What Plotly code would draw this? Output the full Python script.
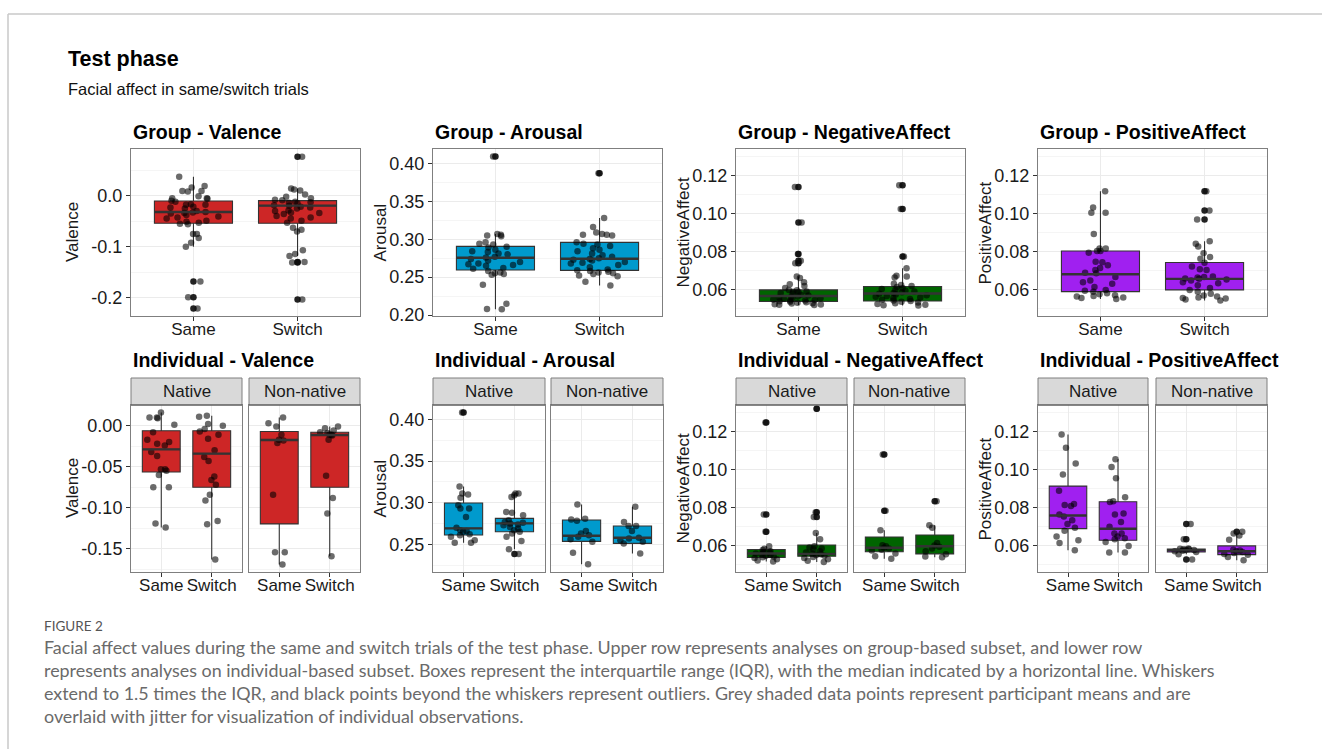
import plotly.graph_objects as go

W, H = 1322, 749

# ---------------- participant means (jittered points) ----------------
# Group-based subset
GV_SAME = [0.037, 0.019, 0.016, 0.009, 0.009, 0.008, -0.001, -0.005, -0.005, -0.006,
           -0.010, -0.012, -0.017, -0.018, -0.018, -0.022, -0.023, -0.025, -0.030, -0.032,
           -0.033, -0.034, -0.035, -0.038, -0.041, -0.043, -0.045, -0.049, -0.051, -0.053,
           -0.055, -0.056, -0.075, -0.075, -0.083, -0.092, -0.100, -0.168, -0.199, -0.221]
GV_SWITCH = [0.076, 0.014, 0.012, 0.010, 0.002, -0.002, -0.005, -0.008, -0.009, -0.012,
             -0.013, -0.014, -0.015, -0.019, -0.020, -0.022, -0.023, -0.025, -0.029, -0.030,
             -0.033, -0.034, -0.036, -0.040, -0.043, -0.045, -0.049, -0.053, -0.063, -0.067,
             -0.070, -0.107, -0.114, -0.118, -0.130, -0.131, -0.203]
GA_SAME = [0.409, 0.307, 0.306, 0.305, 0.304, 0.296, 0.294, 0.293, 0.290, 0.289,
           0.286, 0.284, 0.283, 0.281, 0.280, 0.277, 0.276, 0.274, 0.272, 0.270,
           0.268, 0.267, 0.266, 0.265, 0.262, 0.261, 0.258, 0.256, 0.255, 0.254,
           0.253, 0.240, 0.215, 0.208, 0.2075]
GA_SWITCH = [0.387, 0.328, 0.316, 0.309, 0.307, 0.306, 0.306, 0.305, 0.296, 0.294,
             0.293, 0.291, 0.288, 0.286, 0.284, 0.281, 0.279, 0.277, 0.275, 0.274,
             0.273, 0.272, 0.270, 0.269, 0.268, 0.266, 0.263, 0.260, 0.259, 0.258,
             0.257, 0.256, 0.255, 0.254, 0.252, 0.251, 0.244, 0.239]
GN_SAME = [0.114, 0.0954, 0.0788, 0.0753, 0.0740, 0.0670, 0.0662, 0.0640, 0.0630, 0.0620,
           0.0610, 0.0600, 0.0598, 0.0592, 0.0588, 0.0584, 0.0580, 0.0575, 0.0571, 0.0567,
           0.0563, 0.0560, 0.0556, 0.0553, 0.0550, 0.0547, 0.0544, 0.0541, 0.0538, 0.0535,
           0.0532, 0.0528, 0.0525, 0.0522, 0.0521, 0.0524, 0.0530, 0.0545, 0.0558, 0.0590]
GN_SWITCH = [0.115, 0.1025, 0.0775, 0.0714, 0.0675, 0.0670, 0.0665, 0.0632, 0.0626, 0.0620,
             0.0615, 0.0610, 0.0605, 0.0600, 0.0596, 0.0592, 0.0588, 0.0584, 0.0580, 0.0576,
             0.0572, 0.0568, 0.0564, 0.0560, 0.0556, 0.0552, 0.0548, 0.0545, 0.0542, 0.0538,
             0.0534, 0.0530, 0.0526, 0.0522, 0.0520, 0.0518]
GP_SAME = [0.1118, 0.1033, 0.1005, 0.1005, 0.0893, 0.0818, 0.0818, 0.0805, 0.0805, 0.0795,
           0.0748, 0.0745, 0.0730, 0.0715, 0.0705, 0.0690, 0.0688, 0.0668, 0.0650, 0.0640,
           0.0632, 0.0615, 0.0600, 0.0595, 0.0590, 0.0582, 0.0577, 0.0572, 0.0568, 0.0565,
           0.0560, 0.0557, 0.0552]
GP_SWITCH = [0.1118, 0.1017, 0.0970, 0.0855, 0.0842, 0.0828, 0.0793, 0.0773, 0.0763, 0.0742,
             0.0723, 0.0708, 0.0705, 0.0670, 0.0668, 0.0665, 0.0660, 0.0658, 0.0655, 0.0650,
             0.0640, 0.0635, 0.0625, 0.0610, 0.0600, 0.0590, 0.0580, 0.0570, 0.0565, 0.0560,
             0.0558, 0.0555, 0.0550, 0.0545]

# Individual-based subset (Native / Non-native)
IV_NAT_SAME = [0.016, 0.010, 0.010, 0.009, 0.001, -0.008, -0.017, -0.020, -0.022, -0.024,
               -0.032, -0.037, -0.053, -0.053, -0.055, -0.060, -0.075, -0.075, -0.119, -0.124]
IV_NAT_SWITCH = [0.012, 0.011, 0.002, 0.000, -0.004, -0.007, -0.011, -0.016, -0.030, -0.038,
                 -0.043, -0.062, -0.066, -0.072, -0.084, -0.091, -0.116, -0.120, -0.163]
IV_NON_SAME = [0.010, 0.003, -0.001, -0.011, -0.017, -0.018, -0.021, -0.084, -0.154, -0.154, -0.169]
IV_NON_SWITCH = [-0.001, -0.003, -0.006, -0.008, -0.009, -0.011, -0.011, -0.012, -0.017,
                 -0.061, -0.088, -0.107, -0.159]
IA_NAT_SAME = [0.4084, 0.3196, 0.311, 0.310, 0.306, 0.297, 0.293, 0.293, 0.283, 0.270,
               0.267, 0.266, 0.265, 0.262, 0.261, 0.259, 0.255, 0.252, 0.252]
IA_NAT_SWITCH = [0.311, 0.311, 0.309, 0.307, 0.289, 0.288, 0.285, 0.279, 0.277, 0.276,
                 0.275, 0.274, 0.273, 0.271, 0.269, 0.267, 0.265, 0.263, 0.259, 0.254,
                 0.244, 0.2384]
IA_NON_SAME = [0.298, 0.2808, 0.280, 0.2784, 0.266, 0.263, 0.261, 0.259, 0.256, 0.253, 0.240, 0.226]
IA_NON_SWITCH = [0.2952, 0.2768, 0.272, 0.272, 0.266, 0.258, 0.257, 0.255, 0.253, 0.251, 0.239]
IN_NAT_SAME = [0.1248, 0.0765, 0.0675, 0.0598, 0.0585, 0.0578, 0.0572, 0.0568, 0.0564, 0.0560,
               0.0556, 0.0552, 0.0548, 0.0544, 0.0540, 0.0536, 0.0530, 0.0524, 0.0518]
IN_NAT_SWITCH = [0.132, 0.0777, 0.0752, 0.0668, 0.0635, 0.0598, 0.0592, 0.0587, 0.0582, 0.0572,
                 0.0566, 0.0560, 0.0556, 0.0552, 0.0548, 0.0542, 0.0536, 0.0530, 0.0522, 0.0516]
IN_NON_SAME = [0.108, 0.0785, 0.0682, 0.0604, 0.0598, 0.0590, 0.0586, 0.0580, 0.0576, 0.0560,
               0.0546, 0.0533]
IN_NON_SWITCH = [0.0835, 0.0708, 0.0695, 0.0615, 0.0602, 0.0596, 0.0586, 0.0572, 0.0556,
                 0.0545, 0.0541]
IP_NAT_SAME = [0.1185, 0.1115, 0.1033, 0.0975, 0.0890, 0.0820, 0.0815, 0.0810, 0.0765, 0.0755,
               0.0735, 0.0715, 0.0695, 0.0680, 0.0650, 0.0630, 0.0615, 0.0577]
IP_NAT_SWITCH = [0.1055, 0.1015, 0.0955, 0.0855, 0.0835, 0.0830, 0.0770, 0.0765, 0.0725, 0.0700,
                 0.0665, 0.0665, 0.0650, 0.0640, 0.0635, 0.0620, 0.0600, 0.0565, 0.0565]
IP_NON_SAME = [0.0715, 0.0635, 0.0586, 0.0585, 0.0583, 0.0582, 0.0580, 0.0578, 0.0575, 0.0572,
               0.0568, 0.0556, 0.0528]
IP_NON_SWITCH = [0.0675, 0.0665, 0.0655, 0.0633, 0.0580, 0.0576, 0.0572, 0.0568, 0.0563,
                 0.0558, 0.0554, 0.0542, 0.0525]

# ---------------- box summaries: [lower whisker, Q1, median, Q3, upper whisker] ----------------
GV_SAME_BOX = [-0.100, -0.054, -0.032, -0.0104, 0.037]
GV_SWITCH_BOX = [-0.118, -0.054, -0.0195, -0.0097, 0.014]
GA_SAME_BOX = [0.2075, 0.2593, 0.2756, 0.2906, 0.307]
GA_SWITCH_BOX = [0.239, 0.2589, 0.2743, 0.2958, 0.328]
GN_SAME_BOX = [0.0521, 0.0539, 0.0568, 0.0600, 0.0670]
GN_SWITCH_BOX = [0.0518, 0.0542, 0.0581, 0.0618, 0.0714]
GP_SAME_BOX = [0.0552, 0.0591, 0.0682, 0.0804, 0.1118]
GP_SWITCH_BOX = [0.0545, 0.0600, 0.0658, 0.0744, 0.0855]

IV_NAT_SAME_BOX = [-0.124, -0.0564, -0.0288, -0.0061, 0.016]
IV_NAT_SWITCH_BOX = [-0.163, -0.075, -0.034, -0.0061, 0.012]
IV_NON_SAME_BOX = [-0.169, -0.1196, -0.0174, -0.007, 0.010]
IV_NON_SWITCH_BOX = [-0.159, -0.075, -0.0114, -0.008, -0.001]
IA_NAT_SAME_BOX = [0.252, 0.2612, 0.2692, 0.2996, 0.3196]
IA_NAT_SWITCH_BOX = [0.244, 0.2652, 0.2752, 0.2812, 0.311]
IA_NON_SAME_BOX = [0.226, 0.2536, 0.2604, 0.2792, 0.298]
IA_NON_SWITCH_BOX = [0.239, 0.2512, 0.258, 0.272, 0.2952]
IN_NAT_SAME_BOX = [0.0518, 0.0539, 0.0560, 0.0581, 0.0598]
IN_NAT_SWITCH_BOX = [0.0516, 0.0546, 0.0558, 0.0605, 0.0668]
IN_NON_SAME_BOX = [0.0533, 0.0569, 0.0590, 0.0647, 0.0682]
IN_NON_SWITCH_BOX = [0.0541, 0.0558, 0.0598, 0.0657, 0.0708]
IP_NAT_SAME_BOX = [0.0577, 0.0691, 0.0760, 0.0914, 0.1185]
IP_NAT_SWITCH_BOX = [0.0565, 0.0630, 0.0690, 0.0832, 0.1055]
IP_NON_SAME_BOX = [0.0556, 0.0568, 0.0577, 0.0584, 0.0586]
IP_NON_SWITCH_BOX = [0.0525, 0.0554, 0.0572, 0.0600, 0.0665]

# ---------------- categories, labels, scales ----------------
CATS = ["Same", "Switch"]
FACETS = ["Native", "Non-native"]
MEASURES = ["Valence", "Arousal", "NegativeAffect", "PositiveAffect"]

GROUP_VAL_TICKS = [-0.2, -0.1, 0.0]
GROUP_ARO_TICKS = [0.20, 0.25, 0.30, 0.35, 0.40]
AFFECT_TICKS = [0.06, 0.08, 0.10, 0.12]
INDIV_VAL_TICKS = [-0.15, -0.10, -0.05, 0.00]
INDIV_ARO_TICKS = [0.25, 0.30, 0.35, 0.40]

GROUP_VAL_RANGE = [-0.2355, 0.0912]
GROUP_ARO_RANGE = [0.1987, 0.4190]
AFFECT_RANGE = [0.0463, 0.1340]
INDIV_VAL_RANGE = [-0.1782, 0.0252]
INDIV_ARO_RANGE = [0.2168, 0.4174]

# ---------------- styling ----------------
FILL = {"Valence": "#CD2626", "Arousal": "#009ACD",
        "NegativeAffect": "#006400", "PositiveAffect": "#A020F0"}
EDGE = "#333333"
POINT = "rgba(0,0,0,0.58)"
OUTLIER = "rgba(10,10,10,0.9)"
BORDER = "#7f7f7f"
GRID = "#EBEBEB"
MINOR_GRID = "#F5F5F5"
FONT = "Liberation Sans, Arial, Helvetica, sans-serif"
TEXT = "#1a1a1a"
BOX_W = 0.75

# panel frames in pixels: (left, right)
TOP_X = [(131, 360), (433, 662), (736, 965), (1038, 1267)]
BOT_X = [((131, 242), (249, 360)), ((433, 545), (551, 663)),
         ((736, 847), (854, 965)), ((1038, 1148), (1156, 1267))]
TOP_Y = (149, 316)
BOT_Y = (405, 572)
STRIP_Y = (378, 405)
YTITLE_X = [72.5, 380, 683, 985]

fig = go.Figure()
annotations = []
shapes = []
axis_no = [0]


def fx(p):
    return p / W


def fy(p):
    return 1 - p / H


def make_axes(x0, x1, y0, y1, yrange, yticks, decimals, show_y):
    axis_no[0] += 1
    k = axis_no[0]
    xname = "xaxis" if k == 1 else f"xaxis{k}"
    yname = "yaxis" if k == 1 else f"yaxis{k}"
    xref = "x" if k == 1 else f"x{k}"
    yref = "y" if k == 1 else f"y{k}"
    step = yticks[1] - yticks[0]
    fig.update_layout(**{
        xname: dict(domain=[fx(x0), fx(x1)], anchor=yref, range=[0.4, 2.6], automargin=False,
                    tickmode="array", tickvals=[1, 2], ticktext=CATS,
                    showgrid=True, gridcolor=GRID, gridwidth=1, zeroline=False,
                    showline=True, mirror=True, linecolor=BORDER, linewidth=1,
                    ticks="outside", ticklen=4, tickcolor=EDGE, tickwidth=1,
                    ticklabelstandoff=-6,
                    tickfont=dict(family=FONT, size=17, color=TEXT), fixedrange=True),
        yname: dict(domain=[fy(y1), fy(y0)], anchor=xref, range=yrange, automargin=False,
                    tickmode="array", tickvals=yticks,
                    ticktext=[f"{v:.{decimals}f}" for v in yticks],
                    showticklabels=show_y, ticks="outside" if show_y else "",
                    ticklen=4, tickcolor=EDGE, tickwidth=1,
                    showgrid=True, gridcolor=GRID, gridwidth=1, zeroline=False,
                    minor=dict(tickmode="linear", tick0=yticks[0], dtick=step / 2,
                               showgrid=True, gridcolor=MINOR_GRID, gridwidth=0.7, ticks=""),
                    showline=True, mirror=True, linecolor=BORDER, linewidth=1,
                    tickfont=dict(family=FONT, size=18, color=TEXT), fixedrange=True),
    })
    return xref, yref


def draw_boxes(xref, yref, series, boxes, color):
    for pos, (vals, box) in enumerate(zip(series, boxes), start=1):
        lo, q1, med, q3, hi = box
        common = dict(xaxis=xref, yaxis=yref, showlegend=False, hoverinfo="skip")
        fig.add_trace(go.Box(x=[pos], lowerfence=[lo], q1=[q1], median=[med], q3=[q3],
                             upperfence=[hi], width=BOX_W, whiskerwidth=0, fillcolor=color,
                             line=dict(color=EDGE, width=1.1), boxpoints=False,
                             orientation="v", **common))
        fig.add_trace(go.Scatter(x=[pos - BOX_W / 2, pos + BOX_W / 2], y=[med, med],
                                 mode="lines", line=dict(color=EDGE, width=2.4), **common))
        out = [v for v in vals if v < lo - 1e-9 or v > hi + 1e-9]
        if out:
            fig.add_trace(go.Scatter(x=[pos] * len(out), y=out, mode="markers",
                                     marker=dict(color=OUTLIER, size=6.5), **common))
        fig.add_trace(go.Box(x=[pos] * len(vals), y=vals, boxpoints="all", jitter=0.78,
                             pointpos=0, width=BOX_W, fillcolor="rgba(0,0,0,0)",
                             line=dict(color="rgba(0,0,0,0)", width=0),
                             marker=dict(color=POINT, size=6.5, line=dict(width=0)),
                             orientation="v", **common))


def panel_title(text, x, y):
    annotations.append(dict(text=f"<b>{text}</b>", x=fx(x), y=fy(y), xref="paper", yref="paper",
                            xanchor="left", yanchor="middle", showarrow=False,
                            font=dict(family=FONT, size=19.5, color="#000000")))


def y_title(text, x, y):
    annotations.append(dict(text=text, x=fx(x), y=fy(y), xref="paper", yref="paper",
                            xanchor="center", yanchor="middle", textangle=-90, showarrow=False,
                            font=dict(family=FONT, size=17, color=TEXT)))


# ---------------- upper row: group-based subset ----------------
group_series = [(GV_SAME, GV_SWITCH), (GA_SAME, GA_SWITCH), (GN_SAME, GN_SWITCH), (GP_SAME, GP_SWITCH)]
group_boxes = [(GV_SAME_BOX, GV_SWITCH_BOX), (GA_SAME_BOX, GA_SWITCH_BOX),
               (GN_SAME_BOX, GN_SWITCH_BOX), (GP_SAME_BOX, GP_SWITCH_BOX)]
group_scales = [(GROUP_VAL_RANGE, GROUP_VAL_TICKS, 1), (GROUP_ARO_RANGE, GROUP_ARO_TICKS, 2),
                (AFFECT_RANGE, AFFECT_TICKS, 2), (AFFECT_RANGE, AFFECT_TICKS, 2)]

for i, m in enumerate(MEASURES):
    x0, x1 = TOP_X[i]
    yr, yt, dec = group_scales[i]
    xr, yref = make_axes(x0, x1, TOP_Y[0], TOP_Y[1], yr, yt, dec, True)
    draw_boxes(xr, yref, group_series[i], group_boxes[i], FILL[m])
    panel_title(f"Group - {m}", x0, 132)
    y_title(m, YTITLE_X[i], (TOP_Y[0] + TOP_Y[1]) / 2)

# ---------------- lower row: individual-based subset ----------------
indiv_series = [
    [(IV_NAT_SAME, IV_NAT_SWITCH), (IV_NON_SAME, IV_NON_SWITCH)],
    [(IA_NAT_SAME, IA_NAT_SWITCH), (IA_NON_SAME, IA_NON_SWITCH)],
    [(IN_NAT_SAME, IN_NAT_SWITCH), (IN_NON_SAME, IN_NON_SWITCH)],
    [(IP_NAT_SAME, IP_NAT_SWITCH), (IP_NON_SAME, IP_NON_SWITCH)],
]
indiv_boxes = [
    [(IV_NAT_SAME_BOX, IV_NAT_SWITCH_BOX), (IV_NON_SAME_BOX, IV_NON_SWITCH_BOX)],
    [(IA_NAT_SAME_BOX, IA_NAT_SWITCH_BOX), (IA_NON_SAME_BOX, IA_NON_SWITCH_BOX)],
    [(IN_NAT_SAME_BOX, IN_NAT_SWITCH_BOX), (IN_NON_SAME_BOX, IN_NON_SWITCH_BOX)],
    [(IP_NAT_SAME_BOX, IP_NAT_SWITCH_BOX), (IP_NON_SAME_BOX, IP_NON_SWITCH_BOX)],
]
indiv_scales = [(INDIV_VAL_RANGE, INDIV_VAL_TICKS, 2), (INDIV_ARO_RANGE, INDIV_ARO_TICKS, 2),
                (AFFECT_RANGE, AFFECT_TICKS, 2), (AFFECT_RANGE, AFFECT_TICKS, 2)]

for i, m in enumerate(MEASURES):
    yr, yt, dec = indiv_scales[i]
    for j, facet in enumerate(FACETS):
        x0, x1 = BOT_X[i][j]
        xr, yref = make_axes(x0, x1, BOT_Y[0], BOT_Y[1], yr, yt, dec, j == 0)
        draw_boxes(xr, yref, indiv_series[i][j], indiv_boxes[i][j], FILL[m])
        shapes.append(dict(type="rect", xref="paper", yref="paper",
                           x0=fx(x0), x1=fx(x1), y0=fy(STRIP_Y[1]), y1=fy(STRIP_Y[0]),
                           fillcolor="#D9D9D9", line=dict(color=BORDER, width=1), layer="above"))
        shapes.append(dict(type="line", xref="paper", yref="paper",
                           x0=fx(x0), x1=fx(x1), y0=fy(STRIP_Y[1]), y1=fy(STRIP_Y[1]),
                           line=dict(color="#4d4d4d", width=1.2), layer="above"))
        annotations.append(dict(text=facet, x=fx((x0 + x1) / 2), y=fy((STRIP_Y[0] + STRIP_Y[1]) / 2),
                                xref="paper", yref="paper", xanchor="center", yanchor="middle",
                                showarrow=False, font=dict(family=FONT, size=17, color=TEXT)))
    panel_title(f"Individual - {m}", BOT_X[i][0][0], 360)
    y_title(m, YTITLE_X[i], (BOT_Y[0] + BOT_Y[1]) / 2)

# ---------------- figure heading ----------------
annotations.append(dict(text="<b>Test phase</b>", x=fx(66), y=fy(59), xref="paper", yref="paper",
                        xanchor="left", yanchor="middle", showarrow=False,
                        font=dict(family=FONT, size=21.5, color="#000000")))
annotations.append(dict(text="Facial affect in same/switch trials", x=fx(66), y=fy(89),
                        xref="paper", yref="paper", xanchor="left", yanchor="middle",
                        showarrow=False, font=dict(family=FONT, size=16.5, color="#111111")))

# ---------------- caption ----------------
CAPTION_FONT = "Lato, Roboto, sans-serif"
annotations.append(dict(text="FIGURE 2", x=fx(42), y=fy(626), xref="paper", yref="paper",
                        xanchor="left", yanchor="middle", showarrow=False,
                        font=dict(family=CAPTION_FONT, size=13.5, color="#555555")))
caption_lines = [
    "Facial affect values during the same and switch trials of the test phase. Upper row represents analyses on group-based subset, and lower row",
    "represents analyses on individual-based subset. Boxes represent the interquartile range (IQR), with the median indicated by a horizontal line. Whiskers",
    "extend to 1.5 times the IQR, and black points beyond the whiskers represent outliers. Grey shaded data points represent participant means and are",
    "overlaid with jitter for visualization of individual observations.",
]
for n, line in enumerate(caption_lines):
    annotations.append(dict(text=line, x=fx(42), y=fy(647 + 23 * n), xref="paper", yref="paper",
                            xanchor="left", yanchor="middle", showarrow=False,
                            font=dict(family=CAPTION_FONT, size=17.9, color="#6a6a6a")))

# page frame lines
shapes.append(dict(type="line", xref="paper", yref="paper", x0=fx(8), x1=1, y0=fy(14), y1=fy(14),
                   line=dict(color="#c8c8c8", width=1.5)))
shapes.append(dict(type="line", xref="paper", yref="paper", x0=fx(8), x1=fx(8), y0=0, y1=fy(14),
                   line=dict(color="#c8c8c8", width=1.5)))

fig.update_layout(template="none", width=W, height=H, autosize=False,
                  margin=dict(l=0, r=0, t=0, b=0, pad=0),
                  paper_bgcolor="white", plot_bgcolor="white",
                  showlegend=False, boxmode="overlay",
                  annotations=annotations, shapes=shapes,
                  font=dict(family=FONT))

fig.write_html("out.html")
